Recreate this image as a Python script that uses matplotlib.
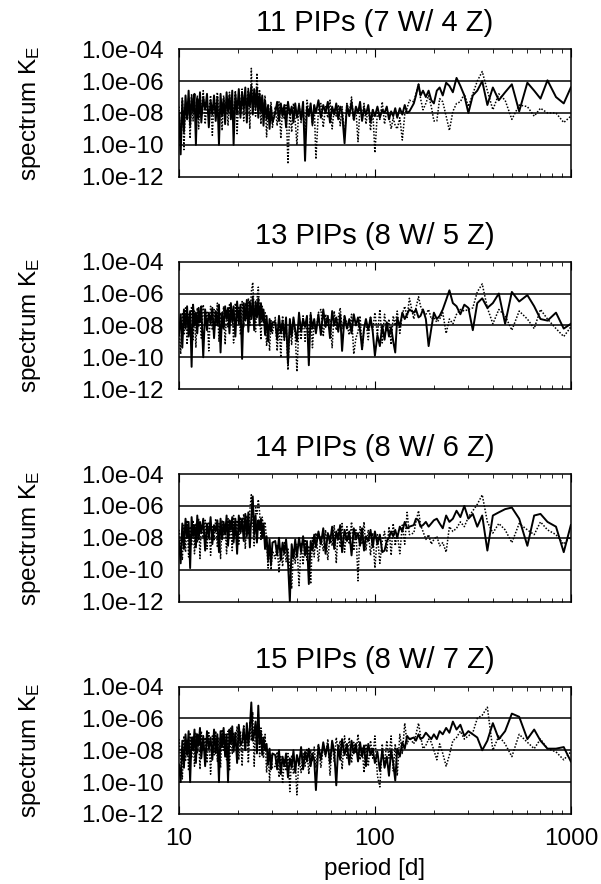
import numpy as np
import matplotlib
matplotlib.use('Agg')
import matplotlib.pyplot as plt
from matplotlib.ticker import NullLocator, NullFormatter, LogLocator

plt.rcParams['font.family'] = ['Liberation Sans', 'DejaVu Sans']
plt.rcParams['mathtext.default'] = 'regular'
plt.rcParams['font.size'] = 17.5

# period grid [d] (shared by all panels)
P_DENSE = [10.0, 10.2, 10.4, 10.6, 10.8, 11.0, 11.2, 11.4, 11.6, 11.8,
           12.0, 12.2, 12.4, 12.6, 12.8, 13.0, 13.3, 13.6, 13.9, 14.2,
           14.5, 14.8, 15.1, 15.4, 15.7, 16.0, 16.3, 16.6, 16.9, 17.2,
           17.5, 17.8, 18.1, 18.4, 18.7, 19.0, 19.4, 19.8, 20.2, 20.6,
           21.0, 21.4, 21.8, 22.2, 22.6, 23.0, 23.4, 23.8, 24.2, 24.6,
           25.0, 25.4, 25.8, 26.2, 26.6, 27.0, 27.5, 28.0, 28.5, 29.0,
           29.5, 30.0]
P_MID = [31, 31.7, 32.4, 33.1, 33.8, 34.5, 35.2, 36, 36.8, 37.6, 38.4, 39.2, 40,
         41, 42, 43, 44, 45, 46, 47, 48, 49, 50,
         51.5, 53, 54.5, 56, 57.5, 59, 60.5, 62, 63.5, 65, 66.5, 68, 70,
         72, 74, 76, 78, 80, 82, 84, 86, 88, 90, 92.5, 95, 97.5, 100,
         103, 106, 109, 112, 115, 118, 121, 124, 127, 130,
         134, 138, 142, 146, 150]
P_SPARSE = [158, 162, 167, 171, 176, 182, 188, 194, 200, 207,
            214, 222, 231, 240, 250, 261, 273, 286, 300, 316,
            333, 353, 375, 400, 429, 462, 500, 545, 600, 650,
            700, 760, 840, 920, 1000]
PERIOD = P_DENSE + P_MID + P_SPARSE

TITLES = ['11 PIPs (7 W/ 4 Z)', '13 PIPs (8 W/ 5 Z)',
          '14 PIPs (8 W/ 6 Z)', '15 PIPs (8 W/ 7 Z)']

# log10 of spectrum K_E, solid and dotted curves per panel
S1 = [-8.0, -10.6, -7.2, -9.2, -6.9, -8.4, -6.6, -8.8, -7.0, -7.9,
      -6.8, -10.0, -7.1, -8.3, -6.7, -8.6, -7.0, -7.8, -6.8, -8.9,
      -7.2, -8.1, -6.9, -8.5, -7.0, -10.0, -6.8, -8.2, -7.1, -8.7,
      -6.7, -7.9, -6.9, -8.4, -6.6, -10.0, -6.8, -8.0, -6.5, -8.3,
      -6.7, -7.8, -6.4, -8.6, -6.6, -7.6, -6.3, -8.1, -6.5, -7.7,
      -6.4, -8.3, -6.8, -7.9, -6.9, -8.8, -7.2, -8.4, -7.5, -9.0,
      -7.6, -8.6,
      -8.0, -7.3, -8.5, -7.4, -8.2, -7.5, -8.9, -7.3, -8.1, -7.6, -8.6, -7.4, -8.3,
      -7.5, -8.4, -7.3, -11.0, -7.6, -8.2, -7.4, -8.7, -7.5, -8.0,
      -7.2, -8.3, -7.5, -8.0, -7.3, -8.6, -7.6, -8.1, -7.4, -8.4, -7.6, -8.0, -9.9,
      -7.5, -8.2, -7.3, -8.4, -7.6, -8.0, -7.3, -8.5, -7.7, -8.1, -7.5, -8.6, -7.8, -8.2,
      -7.6, -8.3, -7.8, -8.0, -7.6, -8.4, -7.9, -8.2, -7.7, -8.3,
      -7.7, -8.1, -7.5, -8.0, -7.9,
      -7.4, -6.9, -6.2, -6.9, -6.6, -7.0, -6.6, -7.2, -7.4, -6.6,
      -6.4, -6.9, -6.1, -6.3, -6.7, -5.8, -6.3, -6.9, -8.0, -6.9,
      -6.6, -6.0, -7.5, -6.4, -7.2, -6.7, -6.2, -7.9, -6.1, -6.6,
      -7.1, -5.95, -7.0, -7.4, -6.4]
D1 = [-7.6, -9.3, -7.0, -10.3, -7.4, -8.0, -7.1, -9.6, -6.8, -8.5,
      -7.3, -8.0, -6.9, -9.0, -7.2, -7.9, -6.6, -8.7, -7.4, -8.0,
      -6.9, -9.4, -7.1, -7.8, -6.7, -8.4, -7.3, -9.1, -6.9, -7.7,
      -7.1, -8.8, -6.7, -7.9, -7.2, -8.2, -6.6, -9.3, -6.9, -7.6,
      -6.5, -8.5, -6.8, -7.5, -6.4, -9.0, -5.2, -7.8, -6.7, -8.2,
      -5.5, -7.4, -6.6, -8.7, -7.0, -7.6, -6.9, -9.5, -7.8, -8.0,
      -7.3, -8.9,
      -7.6, -8.8, -7.3, -9.6, -7.7, -8.4, -7.5, -11.2, -7.8, -9.2, -7.4, -8.5, -10.0,
      -7.4, -8.6, -7.6, -9.3, -7.2, -8.0, -7.7, -8.8, -7.5, -10.9,
      -7.8, -7.4, -8.9, -7.6, -8.3, -7.2, -9.0, -7.7, -8.2, -7.5, -8.8, -7.6, -9.4,
      -7.4, -8.0, -7.0, -8.5, -7.8, -9.8, -7.6, -8.3, -7.4, -8.7, -7.6, -9.1, -7.8, -10.5,
      -7.9, -8.4, -7.3, -8.7, -7.8, -8.2, -9.0, -8.3, -8.8, -9.0,
      -8.3, -9.7, -8.1, -7.7, -7.2,
      -7.3, -6.8, -6.2, -7.1, -7.8, -7.4, -6.9, -7.6, -8.5, -8.5,
      -7.1, -7.3, -8.2, -9.1, -7.9, -7.4, -7.3, -6.8, -7.6, -6.8,
      -6.0, -5.4, -6.6, -7.8, -6.8, -7.2, -8.4, -7.5, -7.6, -8.2,
      -7.7, -8.0, -8.0, -8.6, -8.2]

S2 = [-8.6, -7.3, -9.4, -7.0, -8.2, -6.8, -8.7, -7.1, -10.6, -6.7,
      -8.0, -7.2, -8.5, -6.9, -7.8, -6.8, -10.0, -7.0, -8.3, -7.2,
      -7.9, -6.9, -8.8, -7.1, -8.0, -6.7, -9.7, -7.2, -8.2, -6.8,
      -7.6, -6.9, -8.5, -6.6, -7.8, -6.8, -8.7, -6.5, -7.9, -6.7,
      -10.1, -6.6, -7.7, -6.4, -8.4, -6.5, -7.6, -6.2, -8.3, -6.5,
      -7.5, -6.3, -8.0, -6.6, -7.7, -7.0, -8.6, -7.4, -9.0, -7.6,
      -8.4, -7.8,
      -7.8, -8.9, -7.4, -8.5, -7.7, -8.8, -7.5, -10.4, -7.6, -8.7, -7.5, -8.3, -9.0,
      -7.2, -8.4, -7.6, -8.1, -7.4, -10.5, -7.3, -8.2, -7.6, -8.5,
      -7.3, -8.6, -7.0, -8.1, -7.4, -8.8, -7.1, -8.0, -7.5, -8.4, -7.3, -9.6, -7.4,
      -8.2, -7.6, -8.5, -7.3, -8.0, -7.5, -8.3, -9.5, -8.2, -7.6, -8.3, -7.5, -8.4, -9.9,
      -8.6, -9.3, -8.0, -8.9, -7.8, -8.7, -8.1, -9.0, -9.7, -7.5,
      -8.1, -7.2, -7.6, -7.3, -7.0,
      -7.2, -7.0, -7.5, -7.4, -7.0, -7.6, -9.3, -8.2, -7.2, -7.6,
      -7.4, -7.0, -6.4, -5.8, -6.6, -6.8, -7.3, -6.7, -6.9, -8.3,
      -6.6, -6.3, -6.9, -6.6, -6.0, -7.9, -5.9, -6.5, -6.1, -6.8,
      -7.6, -7.7, -7.2, -8.2, -7.9]
D2 = [-7.8, -9.8, -7.2, -8.6, -6.9, -9.2, -7.3, -7.9, -6.8, -8.9,
      -7.1, -9.4, -6.9, -8.1, -7.4, -8.8, -6.7, -7.9, -7.1, -9.6,
      -6.8, -8.3, -7.0, -8.0, -6.6, -9.0, -7.2, -7.7, -6.8, -9.2,
      -7.0, -8.1, -6.7, -7.6, -7.1, -9.1, -6.6, -7.7, -6.8, -8.6,
      -6.5, -8.1, -6.6, -7.6, -6.3, -8.0, -5.9, -5.3, -7.2, -8.4,
      -6.4, -5.6, -7.1, -8.9, -6.8, -7.8, -7.2, -9.3, -8.0, -9.6,
      -7.7, -8.5,
      -7.5, -9.6, -7.9, -10.0, -7.4, -9.0, -7.7, -10.8, -8.0, -9.2, -7.6, -8.6, -10.9,
      -7.8, -8.9, -7.4, -9.0, -7.7, -8.6, -7.2, -9.4, -7.8, -8.4,
      -7.2, -7.0, -8.7, -7.3, -8.0, -7.6, -9.4, -7.1, -8.3, -7.5, -6.9, -8.2, -7.4,
      -7.9, -8.6, -7.3, -9.8, -8.8, -8.4, -7.4, -9.5, -8.2, -7.8, -8.9, -7.5, -8.3, -7.2,
      -8.6, -7.0, -9.1, -7.3, -8.4, -7.6, -9.2, -7.4, -8.0, -7.1,
      -8.5, -7.3, -6.8, -7.5, -6.3,
      -7.6, -6.9, -6.2, -6.8, -7.1, -7.3, -7.0, -7.6, -7.5, -7.8,
      -7.6, -7.2, -8.5, -7.6, -7.9, -7.3, -7.0, -7.1, -7.0, -6.9,
      -5.9, -5.4, -6.9, -7.9, -7.0, -7.4, -8.3, -7.1, -7.6, -8.2,
      -7.0, -7.6, -8.2, -8.7, -8.1]

S3 = [-8.2, -9.6, -7.1, -8.7, -6.8, -8.0, -7.0, -9.9, -6.7, -7.9,
      -7.2, -8.6, -6.6, -8.1, -7.0, -7.7, -6.8, -8.8, -7.1, -8.0,
      -6.7, -8.4, -7.2, -7.6, -6.9, -8.9, -6.8, -8.1, -7.0, -7.8,
      -6.6, -8.5, -6.9, -7.5, -6.7, -8.3, -6.8, -9.0, -6.6, -7.7,
      -6.8, -8.2, -6.5, -7.9, -6.4, -8.6, -6.7, -5.4, -7.8, -6.6,
      -8.3, -6.9, -7.5, -6.8, -8.0, -7.1, -8.7, -7.9, -9.4, -8.1,
      -9.7, -8.3,
      -8.2, -9.1, -8.0, -9.4, -8.3, -9.0, -8.1, -9.5, -12.0, -8.4, -9.3, -8.1, -9.2,
      -8.0, -8.9, -7.9, -9.1, -8.2, -10.9, -8.2, -8.8, -7.8, -8.6,
      -7.6, -8.4, -7.4, -9.0, -7.7, -8.3, -7.3, -8.7, -7.6, -8.1, -7.2, -8.9, -7.5,
      -8.2, -7.6, -9.1, -7.4, -8.0, -7.7, -8.5, -7.4, -8.8, -7.9, -8.2, -7.5, -8.6, -7.6,
      -8.4, -7.8, -8.9, -8.8, -8.2, -8.0, -7.6, -7.9, -7.5, -8.0,
      -7.3, -7.6, -7.0, -7.4, -7.3,
      -7.2, -6.8, -6.9, -7.3, -7.2, -7.0, -7.3, -7.1, -6.9, -6.8,
      -7.1, -7.4, -6.6, -7.0, -6.8, -6.3, -6.7, -6.0, -6.8, -6.5,
      -7.3, -6.6, -8.8, -6.6, -6.4, -6.2, -6.1, -6.8, -8.5, -6.6,
      -6.5, -7.0, -7.3, -8.9, -7.2]
D3 = [-7.5, -8.4, -9.4, -7.2, -8.9, -6.9, -9.2, -7.3, -8.5, -6.9,
      -9.0, -7.1, -8.3, -6.8, -9.3, -7.2, -8.0, -6.9, -8.7, -7.0,
      -9.1, -7.3, -8.2, -6.8, -8.6, -7.1, -9.3, -6.9, -7.8, -7.2,
      -9.0, -6.8, -8.0, -7.0, -8.8, -6.6, -7.9, -6.9, -8.4, -6.7,
      -7.6, -6.5, -8.7, -6.6, -7.8, -6.3, -5.3, -7.2, -8.5, -6.1,
      -6.5, -5.6, -6.4, -8.1, -6.7, -7.4, -7.0, -8.2, -9.9, -8.5,
      -10.0, -8.8,
      -9.3, -8.4, -10.2, -8.6, -9.8, -8.3, -9.5, -8.7, -9.9, -11.2, -8.7, -9.6, -8.4,
      -11.0, -8.3, -9.7, -8.1, -9.4, -8.5, -10.9, -8.0, -9.2, -7.7,
      -9.5, -7.9, -8.8, -7.5, -9.4, -7.8, -8.5, -7.2, -9.6, -7.4, -8.6, -7.1, -8.9,
      -7.3, -8.4, -7.0, -8.8, -7.5, -10.7, -7.3, -8.4, -7.0, -8.8, -7.5, -9.1, -7.7, -9.9,
      -7.8, -9.6, -8.2, -7.6, -8.9, -7.3, -9.1, -7.1, -8.5, -7.7,
      -9.0, -7.2, -8.4, -6.4, -7.8,
      -7.7, -7.0, -6.3, -7.2, -7.6, -8.1, -7.8, -8.4, -8.1, -7.9,
      -8.5, -8.3, -8.9, -7.3, -7.6, -7.4, -7.0, -7.3, -6.7, -6.3,
      -5.9, -5.3, -7.0, -7.7, -7.1, -7.5, -8.3, -7.1, -7.5, -7.8,
      -7.0, -7.5, -7.8, -8.4, -7.9]

S4 = [-8.9, -10.0, -7.4, -9.1, -7.0, -8.3, -6.8, -10.0, -7.2, -8.0,
      -6.7, -8.8, -7.0, -7.7, -6.6, -8.5, -7.1, -9.0, -6.8, -7.9,
      -7.2, -8.6, -6.7, -8.2, -7.0, -10.0, -6.8, -7.8, -6.6, -8.4,
      -7.0, -10.0, -6.7, -7.6, -6.5, -8.1, -6.9, -8.8, -6.4, -7.7,
      -7.5, -6.6, -8.0, -6.3, -7.7, -6.6, -5.0, -7.4, -7.0, -6.2,
      -8.2, -5.2, -7.6, -6.9, -8.3, -7.2, -8.0, -7.6, -8.9, -7.9,
      -9.2, -8.2,
      -8.3, -9.2, -8.0, -9.5, -8.4, -9.0, -8.2, -9.7, -8.5, -9.1, -8.0, -9.4, -8.3,
      -8.9, -7.8, -9.2, -8.1, -8.7, -7.9, -9.0, -8.2, -8.6, -10.5,
      -7.7, -8.6, -7.5, -8.3, -7.6, -8.8, -7.4, -8.1, -10.2, -7.7, -8.6, -7.3, -8.3,
      -7.6, -8.9, -7.4, -8.2, -7.6, -8.7, -7.5, -8.4, -7.7, -9.0, -7.6, -8.3, -7.9, -8.8,
      -8.1, -9.3, -8.0, -9.1, -8.4, -9.6, -8.0, -8.8, -9.9, -7.9,
      -8.4, -7.5, -7.9, -7.1, -7.3,
      -7.2, -7.4, -7.0, -7.3, -7.2, -6.9, -7.1, -7.3, -7.0, -7.3,
      -6.8, -7.0, -6.6, -6.9, -6.2, -6.7, -6.4, -7.1, -6.8, -7.0,
      -7.2, -8.0, -7.4, -6.3, -7.3, -6.8, -5.7, -5.9, -7.3, -6.7,
      -7.4, -7.9, -7.9, -7.8, -8.7]
D4 = [-7.3, -8.6, -9.8, -7.1, -8.7, -7.4, -9.3, -6.9, -8.5, -7.1,
      -9.0, -6.9, -8.2, -7.3, -9.2, -6.8, -8.0, -7.2, -8.8, -6.9,
      -9.5, -7.1, -8.3, -6.8, -8.7, -7.2, -9.1, -6.7, -8.0, -7.0,
      -8.6, -6.8, -9.3, -6.6, -8.2, -6.9, -7.7, -6.5, -8.6, -6.8,
      -9.0, -6.4, -7.9, -6.7, -8.8, -6.2, -7.4, -5.6, -9.0, -6.4,
      -7.3, -5.7, -8.4, -6.6, -7.2, -8.5, -7.0, -9.4, -8.1, -9.9,
      -8.3, -9.1,
      -9.0, -8.1, -9.7, -8.4, -10.1, -8.6, -9.3, -8.2, -10.6, -8.3, -9.5, -8.7, -10.8,
      -8.5, -9.4, -8.2, -9.0, -7.9, -9.5, -8.0, -8.7, -7.8, -9.1,
      -7.6, -9.1, -7.8, -8.4, -7.3, -9.6, -7.5, -8.7, -7.2, -8.0, -7.4, -9.2, -7.1,
      -8.5, -7.2, -8.8, -7.5, -8.2, -7.0, -8.6, -7.8, -9.4, -7.6, -9.0, -7.4, -8.5, -7.1,
      -9.6, -10.3, -7.6, -9.0, -7.4, -8.5, -7.1, -9.3, -7.6, -9.6,
      -7.0, -8.2, -6.3, -7.6, -7.2,
      -7.6, -7.0, -6.3, -7.1, -7.9, -7.7, -7.3, -7.5, -8.0, -8.6,
      -7.6, -8.2, -9.0, -8.3, -7.4, -7.2, -6.8, -7.3, -7.1, -6.9,
      -6.0, -5.8, -5.3, -8.0, -7.1, -7.6, -8.4, -7.0, -7.5, -7.9,
      -7.3, -7.9, -8.1, -8.6, -8.1]

SOLID = [S1, S2, S3, S4]
DOTTED = [D1, D2, D3, D4]

YTICKS = [1e-12, 1e-10, 1e-8, 1e-6, 1e-4]
YTICK_LABELS = ['1.0e-12', '1.0e-10', '1.0e-08', '1.0e-06', '1.0e-04']
XTICKS = [10, 100, 1000]
XTICK_LABELS = ['10', '100', '1000']

# axes boxes in figure fraction
bottoms = [0.8001, 0.5598, 0.3195, 0.0792]

fig = plt.figure(figsize=(6.01, 8.84), dpi=100)
for i in range(4):
    ax = fig.add_axes([0.2978, bottoms[i], 0.652, 0.1442])
    for g in [1e-6, 1e-8, 1e-10]:
        ax.axhline(g, color='black', lw=1.1, zorder=1)
    ax.plot(PERIOD, np.power(10.0, SOLID[i]), color='black', lw=1.4, zorder=3)
    ax.plot(PERIOD, np.power(10.0, DOTTED[i]), color='black', lw=1.1,
            ls=(0, (1, 1.1)), zorder=2)
    ax.set_xscale('log')
    ax.set_yscale('log')
    ax.set_xlim(10, 1000)
    ax.set_ylim(1e-12, 1e-4)
    ax.set_yticks(YTICKS)
    ax.set_yticklabels(YTICK_LABELS)
    ax.yaxis.set_minor_locator(NullLocator())
    ax.tick_params(axis='y', length=0, pad=11)
    ax.set_xticks(XTICKS)
    ax.xaxis.set_minor_locator(LogLocator(base=10, subs=np.arange(2, 10)))
    ax.xaxis.set_minor_formatter(NullFormatter())
    ax.tick_params(axis='x', which='both', direction='in', top=True, bottom=True)
    ax.tick_params(axis='x', which='major', length=6)
    ax.tick_params(axis='x', which='minor', length=3)
    if i == 3:
        ax.set_xticklabels(XTICK_LABELS)
        ax.tick_params(axis='x', pad=10)
        ax.set_xlabel('period [d]', labelpad=6)
    else:
        ax.set_xticklabels([])
    ax.set_title(TITLES[i], pad=13)
    ax.set_ylabel('spectrum K$_E$')
    ax.yaxis.set_label_coords(-0.347, 0.5)
    for s in ax.spines.values():
        s.set_linewidth(1.1)

fig.savefig('out.png', dpi=100)
